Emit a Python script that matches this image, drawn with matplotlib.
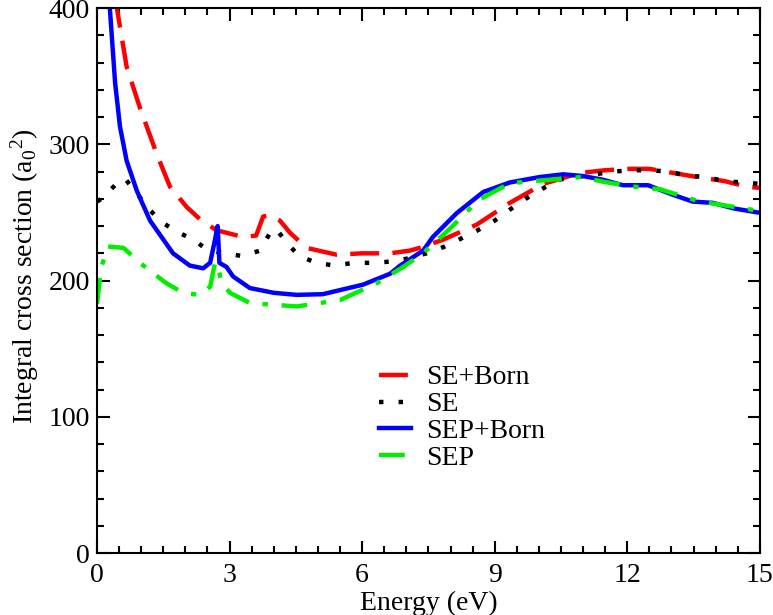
import matplotlib.pyplot as plt
from matplotlib.ticker import MultipleLocator

plt.rcParams["font.family"] = ["Liberation Serif", "DejaVu Serif"]
plt.rcParams["mathtext.fontset"] = "custom"
plt.rcParams["mathtext.rm"] = "Liberation Serif"
plt.rcParams["mathtext.it"] = "Liberation Serif:italic"

# SE+Born (red dashed)
se_born_e = [0.35, 0.45, 0.67, 0.97, 1.35, 1.65, 2.03, 2.33, 2.7, 3.3, 3.6, 3.76, 3.91,
             4.14, 4.37, 4.74, 5.42, 6.0, 6.63, 7.08, 7.3, 7.83, 8.59, 9.34, 10.1,
             10.93, 11.5, 12.06, 12.5, 13.4, 14.2, 14.7, 15.0]
se_born_v = [425, 400, 357, 327, 293, 269, 254, 245, 237, 232, 233, 247, 248,
             244, 235, 224, 219, 220, 220, 222, 224, 230, 241, 257, 271,
             279, 281, 282, 282, 277, 273, 269, 268]

# SE (black dotted)
se_e = [0.0, 0.1, 0.41, 0.63, 0.9, 1.16, 1.46, 1.8, 2.18, 2.48, 2.85, 3.3, 3.69, 3.95,
        4.05, 4.29, 4.57, 4.97, 5.38, 5.8, 6.24, 6.67, 7.0, 7.46, 7.87, 8.25, 8.62,
        9.0, 9.34, 9.7, 10.06, 10.43, 10.85, 11.27, 11.68, 12.1, 12.5, 12.94, 13.35,
        13.78, 14.2, 14.6, 15.0]
se_v = [258, 260, 270, 275, 264, 253, 243, 236, 230, 223, 220, 218, 222, 237,
        238, 228, 218, 213, 211, 213, 213, 214, 216, 220, 225, 231, 237,
        244, 252, 260, 267, 274, 276, 278, 280, 281, 281, 280, 277,
        276, 273, 272, 271]

# SEP+Born (blue solid)
sep_born_e = [0.22, 0.29, 0.41, 0.52, 0.67, 0.9, 1.2, 1.72, 2.1, 2.4, 2.56, 2.67, 2.73,
              2.77, 2.93, 3.08, 3.46, 4.0, 4.52, 5.11, 6.02, 6.63, 6.86, 7.38, 7.6,
              8.14, 8.74, 9.34, 10.02, 10.55, 11.0, 11.45, 11.9, 12.47, 13.03, 13.48,
              13.94, 14.4, 14.95, 15.0]
sep_born_v = [440, 400, 345, 313, 288, 266, 244, 220, 211, 209, 213, 230, 240,
              213, 210, 203, 194.5, 191, 189.5, 190, 197, 205, 211, 222, 232,
              249.5, 265, 272, 276, 278, 276.7, 274, 270, 270, 263, 258,
              257, 253, 250, 250]

# SEP (green dash-dot)
sep_e = [0.0, 0.1, 0.25, 0.6, 0.97, 1.57, 1.95, 2.33, 2.56, 2.67, 2.72, 2.82, 3.01,
         3.46, 4.52, 5.5, 6.33, 6.93, 7.38, 8.0, 8.63, 9.34, 10.17, 10.96, 11.45,
         12.13, 12.74, 13.64, 14.73, 15.0]
sep_v = [183, 210, 225, 224, 213, 198, 191, 189.4, 195.5, 213, 213, 198, 191,
         183.5, 181, 185.7, 198, 210, 220, 238.5, 259, 271.5, 273.8, 276, 272.6,
         269, 267, 258, 252.5, 251]

fig = plt.figure(figsize=(7.73, 6.15), dpi=100)
ax = fig.add_axes([0.1255, 0.1008, 0.8575, 0.886])

lw = 3.2
ax.plot(se_born_e, se_born_v, color="#ff0000", lw=lw, dashes=(6.5, 3), label="SE+Born")
ax.plot(se_e, se_v, color="black", lw=lw, dashes=(1, 3.4), label="SE")
ax.plot(sep_born_e, sep_born_v, color="#0000ff", lw=lw, label="SEP+Born")
ax.plot(sep_e, sep_v, color="#00ee00", lw=lw, dashes=(5.8, 3.1, 1.2, 3.1), label="SEP")

ax.set_xlim(0, 15)
ax.set_ylim(0, 400)
ax.xaxis.set_major_locator(MultipleLocator(3))
ax.xaxis.set_minor_locator(MultipleLocator(0.5))
ax.yaxis.set_major_locator(MultipleLocator(100))
ax.yaxis.set_minor_locator(MultipleLocator(20))
ax.tick_params(which="both", direction="in", top=True, right=True, width=1.5,
               labelsize=20, pad=5)
ax.tick_params(axis="x", which="both", pad=7)
ax.tick_params(which="major", length=9)
ax.tick_params(which="minor", length=5)
for s in ax.spines.values():
    s.set_linewidth(1.5)

ax.set_xlabel("Energy (eV)", fontsize=20, labelpad=2)
ax.set_ylabel(r"Integral cross section (a$_{0}{}^{2}$)", fontsize=20)
ax.yaxis.set_label_coords(-0.085, 0.508)

ax.legend(loc="upper left", bbox_to_anchor=(0.425, 0.345), frameon=False, fontsize=20,
          handlelength=1.15, handletextpad=0.55, labelspacing=0.05, borderaxespad=0,
          borderpad=0)

fig.savefig("out.png", dpi=100)
